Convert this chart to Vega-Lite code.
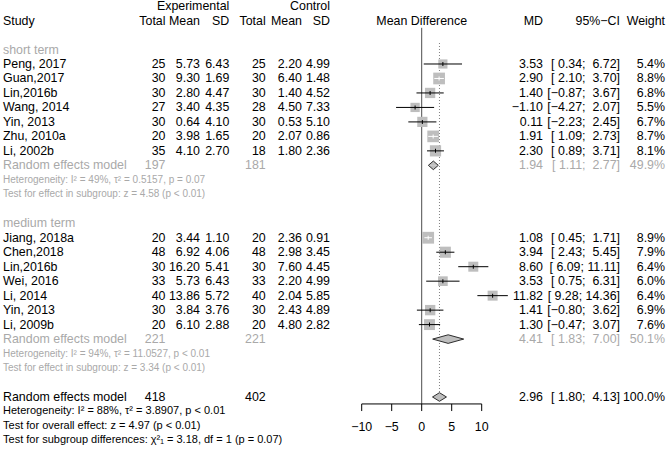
{
  "$schema": "https://vega.github.io/schema/vega-lite/v6.json",
  "width": 669,
  "height": 451,
  "autosize": "none",
  "padding": 0,
  "background": "white",
  "config": {
    "view": {"stroke": null},
    "text": {"font": "Liberation Sans", "fontSize": 12.4, "baseline": "middle"}
  },
  "datasets": {
    "table": [
      {"row": 1, "kind": "header", "eSD": "Experimental", "cSD": "Control"},
      {"row": 2, "kind": "header", "study": "Study", "eN": "Total", "eMean": "Mean", "eSD": "SD", "cN": "Total", "cMean": "Mean", "cSD": "SD", "fp": "Mean Difference", "mdText": "MD", "ci": "95%−CI", "wt": "Weight"},
      {"row": 5, "kind": "study", "study": "Peng, 2017", "eN": "25", "eMean": "5.73", "eSD": "6.43", "cN": "25", "cMean": "2.20", "cSD": "4.99", "md": 3.53, "lower": 0.34, "upper": 6.72, "w": 5.4, "mdText": "3.53", "ci": "[ 0.34; \u00a06.72]", "wt": "5.4%"},
      {"row": 6, "kind": "study", "study": "Guan,2017", "eN": "30", "eMean": "9.30", "eSD": "1.69", "cN": "30", "cMean": "6.40", "cSD": "1.48", "md": 2.90, "lower": 2.10, "upper": 3.70, "w": 8.8, "mdText": "2.90", "ci": "[ 2.10; \u00a03.70]", "wt": "8.8%"},
      {"row": 7, "kind": "study", "study": "Lin,2016b", "eN": "30", "eMean": "2.80", "eSD": "4.47", "cN": "30", "cMean": "1.40", "cSD": "4.52", "md": 1.40, "lower": -0.87, "upper": 3.67, "w": 6.8, "mdText": "1.40", "ci": "[−0.87; \u00a03.67]", "wt": "6.8%"},
      {"row": 8, "kind": "study", "study": "Wang, 2014", "eN": "27", "eMean": "3.40", "eSD": "4.35", "cN": "28", "cMean": "4.50", "cSD": "7.33", "md": -1.10, "lower": -4.27, "upper": 2.07, "w": 5.5, "mdText": "−1.10", "ci": "[−4.27; \u00a02.07]", "wt": "5.5%"},
      {"row": 9, "kind": "study", "study": "Yin, 2013", "eN": "30", "eMean": "0.64", "eSD": "4.10", "cN": "30", "cMean": "0.53", "cSD": "5.10", "md": 0.11, "lower": -2.23, "upper": 2.45, "w": 6.7, "mdText": "0.11", "ci": "[−2.23; \u00a02.45]", "wt": "6.7%"},
      {"row": 10, "kind": "study", "study": "Zhu, 2010a", "eN": "20", "eMean": "3.98", "eSD": "1.65", "cN": "20", "cMean": "2.07", "cSD": "0.86", "md": 1.91, "lower": 1.09, "upper": 2.73, "w": 8.7, "mdText": "1.91", "ci": "[ 1.09; \u00a02.73]", "wt": "8.7%"},
      {"row": 11, "kind": "study", "study": "Li, 2002b", "eN": "35", "eMean": "4.10", "eSD": "2.70", "cN": "18", "cMean": "1.80", "cSD": "2.36", "md": 2.30, "lower": 0.89, "upper": 3.71, "w": 8.1, "mdText": "2.30", "ci": "[ 0.89; \u00a03.71]", "wt": "8.1%"},
      {"row": 12, "kind": "sub", "study": "Random effects model", "eN": "197", "cN": "181", "md": 1.94, "lower": 1.11, "upper": 2.77, "mdText": "1.94", "ci": "[ 1.11; \u00a02.77]", "wt": "49.9%"},
      {"row": 17, "kind": "study", "study": "Jiang, 2018a", "eN": "20", "eMean": "3.44", "eSD": "1.10", "cN": "20", "cMean": "2.36", "cSD": "0.91", "md": 1.08, "lower": 0.45, "upper": 1.71, "w": 8.9, "mdText": "1.08", "ci": "[ 0.45; \u00a01.71]", "wt": "8.9%"},
      {"row": 18, "kind": "study", "study": "Chen,2018", "eN": "48", "eMean": "6.92", "eSD": "4.06", "cN": "48", "cMean": "2.98", "cSD": "3.45", "md": 3.94, "lower": 2.43, "upper": 5.45, "w": 7.9, "mdText": "3.94", "ci": "[ 2.43; \u00a05.45]", "wt": "7.9%"},
      {"row": 19, "kind": "study", "study": "Lin,2016b", "eN": "30", "eMean": "16.20", "eSD": "5.41", "cN": "30", "cMean": "7.60", "cSD": "4.45", "md": 8.60, "lower": 6.09, "upper": 11.11, "w": 6.4, "mdText": "8.60", "ci": "[ 6.09; 11.11]", "wt": "6.4%"},
      {"row": 20, "kind": "study", "study": "Wei, 2016", "eN": "33", "eMean": "5.73", "eSD": "6.43", "cN": "33", "cMean": "2.20", "cSD": "4.99", "md": 3.53, "lower": 0.75, "upper": 6.31, "w": 6.0, "mdText": "3.53", "ci": "[ 0.75; \u00a06.31]", "wt": "6.0%"},
      {"row": 21, "kind": "study", "study": "Li, 2014", "eN": "40", "eMean": "13.86", "eSD": "5.72", "cN": "40", "cMean": "2.04", "cSD": "5.85", "md": 11.82, "lower": 9.28, "upper": 14.36, "w": 6.4, "mdText": "11.82", "ci": "[ 9.28; 14.36]", "wt": "6.4%"},
      {"row": 22, "kind": "study", "study": "Yin, 2013", "eN": "30", "eMean": "3.84", "eSD": "3.76", "cN": "30", "cMean": "2.43", "cSD": "4.89", "md": 1.41, "lower": -0.80, "upper": 3.62, "w": 6.9, "mdText": "1.41", "ci": "[−0.80; \u00a03.62]", "wt": "6.9%"},
      {"row": 23, "kind": "study", "study": "\u00a0Li, 2009b", "eN": "20", "eMean": "6.10", "eSD": "2.88", "cN": "20", "cMean": "4.80", "cSD": "2.82", "md": 1.30, "lower": -0.47, "upper": 3.07, "w": 7.6, "mdText": "1.30", "ci": "[−0.47; \u00a03.07]", "wt": "7.6%"},
      {"row": 24, "kind": "sub", "study": "Random effects model", "eN": "221", "cN": "221", "md": 4.41, "lower": 1.83, "upper": 7.00, "mdText": "4.41", "ci": "[ 1.83; \u00a07.00]", "wt": "50.1%"},
      {"row": 28, "kind": "overall", "study": "Random effects model", "eN": "418", "cN": "402", "md": 2.96, "lower": 1.80, "upper": 4.13, "mdText": "2.96", "ci": "[ 1.80; \u00a04.13]", "wt": "100.0%"}
    ],
    "notes": [
      {"row": 4, "text": "short term", "kind": "subtitle"},
      {"row": 13, "text": "Heterogeneity: I² = 49%, τ² = 0.5157, p = 0.07", "kind": "subnote"},
      {"row": 14, "text": "Test for effect in subgroup: z = 4.58 (p < 0.01)", "kind": "subnote"},
      {"row": 16, "text": "medium term", "kind": "subtitle"},
      {"row": 25, "text": "Heterogeneity: I² = 94%, τ² = 11.0527, p < 0.01", "kind": "subnote"},
      {"row": 26, "text": "Test for effect in subgroup: z = 3.34 (p < 0.01)", "kind": "subnote"},
      {"row": 29, "text": "Heterogeneity: I² = 88%, τ² = 3.8907, p < 0.01", "kind": "note"},
      {"row": 30, "text": "Test for overall effect: z = 4.97 (p < 0.01)", "kind": "note"},
      {"row": 31, "text": "Test for subgroup differences: χ²₁ = 3.18, df = 1 (p = 0.07)", "kind": "note"}
    ],
    "ticks": [{"v": -10}, {"v": -5}, {"v": 0}, {"v": 5}, {"v": 10}]
  },
  "layer": [
    {
      "data": {"name": "ticks"},
      "transform": [{"filter": "datum.v === 0"}],
      "mark": {"type": "rule", "color": "#4D4D4D", "strokeWidth": 1},
      "encoding": {
        "x": {"field": "v", "type": "quantitative", "scale": {"domain": [-70.283, 41.217], "nice": false, "zero": false}, "axis": null},
        "y": {"datum": 2.5, "type": "quantitative", "scale": {"domain": [0.58, 31.73], "reverse": true, "nice": false, "zero": false}, "axis": null},
        "y2": {"datum": 28.48}
      }
    },
    {
      "data": {"name": "table"},
      "transform": [{"filter": "datum.kind === 'overall'"}],
      "mark": {"type": "rule", "color": "#808080", "strokeWidth": 1, "strokeDash": [1, 2]},
      "encoding": {
        "x": {"field": "md", "type": "quantitative", "scale": {"domain": [-70.283, 41.217], "nice": false, "zero": false}, "axis": null},
        "y": {"datum": 3.55, "type": "quantitative", "scale": {"domain": [0.58, 31.73], "reverse": true, "nice": false, "zero": false}, "axis": null},
        "y2": {"datum": 27.68}
      }
    },
    {
      "data": {"name": "ticks"},
      "mark": {"type": "rule", "color": "#000000", "strokeWidth": 1},
      "encoding": {
        "x": {"aggregate": "min", "field": "v", "type": "quantitative", "scale": {"domain": [-70.283, 41.217], "nice": false, "zero": false}, "axis": null},
        "x2": {"aggregate": "max", "field": "v"},
        "y": {"datum": 28.48, "type": "quantitative", "scale": {"domain": [0.58, 31.73], "reverse": true, "nice": false, "zero": false}, "axis": null}
      }
    },
    {
      "data": {"name": "ticks"},
      "mark": {"type": "rule", "color": "#000000", "strokeWidth": 1},
      "encoding": {
        "x": {"field": "v", "type": "quantitative", "scale": {"domain": [-70.283, 41.217], "nice": false, "zero": false}, "axis": null},
        "y": {"datum": 28.48, "type": "quantitative", "scale": {"domain": [0.58, 31.73], "reverse": true, "nice": false, "zero": false}, "axis": null},
        "y2": {"datum": 28.97}
      }
    },
    {
      "data": {"name": "ticks"},
      "mark": {"type": "text", "align": "center", "fontSize": 12.4, "color": "#000000"},
      "encoding": {
        "x": {"field": "v", "type": "quantitative", "scale": {"domain": [-70.283, 41.217], "nice": false, "zero": false}, "axis": null},
        "y": {"datum": 30.07, "type": "quantitative", "scale": {"domain": [0.58, 31.73], "reverse": true, "nice": false, "zero": false}, "axis": null},
        "text": {"field": "v", "type": "quantitative", "format": "d"}
      }
    },
    {
      "data": {"name": "table"},
      "transform": [{"filter": "datum.kind === 'study'"}],
      "mark": {"type": "point", "shape": "square", "filled": true, "color": "#BEBEBE", "opacity": 1, "strokeWidth": 0},
      "encoding": {
        "x": {"field": "md", "type": "quantitative", "scale": {"domain": [-70.283, 41.217], "nice": false, "zero": false}, "axis": null},
        "y": {"field": "row", "type": "quantitative", "scale": {"domain": [0.58, 31.73], "reverse": true, "nice": false, "zero": false}, "axis": null},
        "size": {"field": "w", "type": "quantitative", "scale": {"type": "linear", "domain": [0, 10], "range": [0, 156], "zero": true}, "legend": null}
      }
    },
    {
      "data": {"name": "table"},
      "transform": [{"filter": "datum.kind === 'study'"}],
      "mark": {"type": "rule", "strokeWidth": 1},
      "encoding": {
        "x": {"field": "lower", "type": "quantitative", "scale": {"domain": [-70.283, 41.217], "nice": false, "zero": false}, "axis": null},
        "x2": {"field": "upper"},
        "y": {"field": "row", "type": "quantitative", "scale": {"domain": [0.58, 31.73], "reverse": true, "nice": false, "zero": false}, "axis": null},
        "color": {"condition": {"test": "datum.upper - datum.lower < 2", "value": "#FFFFFF"}, "value": "#000000"}
      }
    },
    {
      "data": {"name": "table"},
      "transform": [{"filter": "datum.kind === 'study'"}],
      "mark": {"type": "tick", "orient": "vertical", "size": 4, "thickness": 1, "opacity": 1},
      "encoding": {
        "x": {"field": "md", "type": "quantitative", "scale": {"domain": [-70.283, 41.217], "nice": false, "zero": false}, "axis": null},
        "y": {"field": "row", "type": "quantitative", "scale": {"domain": [0.58, 31.73], "reverse": true, "nice": false, "zero": false}, "axis": null},
        "color": {"condition": {"test": "datum.upper - datum.lower < 2", "value": "#FFFFFF"}, "value": "#000000"}
      }
    },
    {
      "data": {"name": "table"},
      "transform": [
        {"filter": "datum.kind === 'sub' || datum.kind === 'overall'"},
        {"fold": ["lower", "md", "upper"], "as": ["pt", "xv"]}
      ],
      "mark": {
        "type": "line",
        "fill": "#BEBEBE",
        "stroke": "#1A1A1A",
        "strokeWidth": 0.9,
        "strokeJoin": "miter",
        "yOffset": {"expr": "datum.pt === 'md' ? -4.3 : 0"}
      },
      "encoding": {
        "x": {"field": "xv", "type": "quantitative", "scale": {"domain": [-70.283, 41.217], "nice": false, "zero": false}, "axis": null},
        "y": {"field": "row", "type": "quantitative", "scale": {"domain": [0.58, 31.73], "reverse": true, "nice": false, "zero": false}, "axis": null},
        "detail": {"field": "row", "type": "nominal"},
        "order": {"field": "xv", "type": "quantitative"}
      }
    },
    {
      "data": {"name": "table"},
      "transform": [
        {"filter": "datum.kind === 'sub' || datum.kind === 'overall'"},
        {"fold": ["lower", "md", "upper"], "as": ["pt", "xv"]}
      ],
      "mark": {
        "type": "line",
        "fill": "#BEBEBE",
        "stroke": "#1A1A1A",
        "strokeWidth": 0.9,
        "strokeJoin": "miter",
        "yOffset": {"expr": "datum.pt === 'md' ? 4.3 : 0"}
      },
      "encoding": {
        "x": {"field": "xv", "type": "quantitative", "scale": {"domain": [-70.283, 41.217], "nice": false, "zero": false}, "axis": null},
        "y": {"field": "row", "type": "quantitative", "scale": {"domain": [0.58, 31.73], "reverse": true, "nice": false, "zero": false}, "axis": null},
        "detail": {"field": "row", "type": "nominal"},
        "order": {"field": "xv", "type": "quantitative"}
      }
    },
    {
      "data": {"name": "table"},
      "transform": [{"filter": "datum.study != null"}],
      "mark": {"type": "text", "align": "left"},
      "encoding": {
        "x": {"datum": -69.78, "type": "quantitative", "scale": {"domain": [-70.283, 41.217], "nice": false, "zero": false}, "axis": null},
        "y": {"field": "row", "type": "quantitative", "scale": {"domain": [0.58, 31.73], "reverse": true, "nice": false, "zero": false}, "axis": null},
        "text": {"field": "study", "type": "nominal"},
        "color": {"field": "kind", "type": "nominal", "scale": {"domain": ["header", "study", "sub", "overall", "subtitle", "subnote", "note"], "range": ["#000000", "#000000", "#A9A9A9", "#000000", "#A9A9A9", "#A9A9A9", "#000000"]}, "legend": null}
      }
    },
    {
      "data": {"name": "table"},
      "transform": [{"filter": "datum.eN != null"}],
      "mark": {"type": "text", "align": "right"},
      "encoding": {
        "x": {"datum": -42.7, "type": "quantitative", "scale": {"domain": [-70.283, 41.217], "nice": false, "zero": false}, "axis": null},
        "y": {"field": "row", "type": "quantitative", "scale": {"domain": [0.58, 31.73], "reverse": true, "nice": false, "zero": false}, "axis": null},
        "text": {"field": "eN", "type": "nominal"},
        "color": {"field": "kind", "type": "nominal", "scale": {"domain": ["header", "study", "sub", "overall", "subtitle", "subnote", "note"], "range": ["#000000", "#000000", "#A9A9A9", "#000000", "#A9A9A9", "#A9A9A9", "#000000"]}, "legend": null}
      }
    },
    {
      "data": {"name": "table"},
      "transform": [{"filter": "datum.eMean != null"}],
      "mark": {"type": "text", "align": "right"},
      "encoding": {
        "x": {"datum": -36.95, "type": "quantitative", "scale": {"domain": [-70.283, 41.217], "nice": false, "zero": false}, "axis": null},
        "y": {"field": "row", "type": "quantitative", "scale": {"domain": [0.58, 31.73], "reverse": true, "nice": false, "zero": false}, "axis": null},
        "text": {"field": "eMean", "type": "nominal"},
        "color": {"field": "kind", "type": "nominal", "scale": {"domain": ["header", "study", "sub", "overall", "subtitle", "subnote", "note"], "range": ["#000000", "#000000", "#A9A9A9", "#000000", "#A9A9A9", "#A9A9A9", "#000000"]}, "legend": null}
      }
    },
    {
      "data": {"name": "table"},
      "transform": [{"filter": "datum.eSD != null"}],
      "mark": {"type": "text", "align": "right"},
      "encoding": {
        "x": {"datum": -32.07, "type": "quantitative", "scale": {"domain": [-70.283, 41.217], "nice": false, "zero": false}, "axis": null},
        "y": {"field": "row", "type": "quantitative", "scale": {"domain": [0.58, 31.73], "reverse": true, "nice": false, "zero": false}, "axis": null},
        "text": {"field": "eSD", "type": "nominal"},
        "color": {"field": "kind", "type": "nominal", "scale": {"domain": ["header", "study", "sub", "overall", "subtitle", "subnote", "note"], "range": ["#000000", "#000000", "#A9A9A9", "#000000", "#A9A9A9", "#A9A9A9", "#000000"]}, "legend": null}
      }
    },
    {
      "data": {"name": "table"},
      "transform": [{"filter": "datum.cN != null"}],
      "mark": {"type": "text", "align": "right"},
      "encoding": {
        "x": {"datum": -26.0, "type": "quantitative", "scale": {"domain": [-70.283, 41.217], "nice": false, "zero": false}, "axis": null},
        "y": {"field": "row", "type": "quantitative", "scale": {"domain": [0.58, 31.73], "reverse": true, "nice": false, "zero": false}, "axis": null},
        "text": {"field": "cN", "type": "nominal"},
        "color": {"field": "kind", "type": "nominal", "scale": {"domain": ["header", "study", "sub", "overall", "subtitle", "subnote", "note"], "range": ["#000000", "#000000", "#A9A9A9", "#000000", "#A9A9A9", "#A9A9A9", "#000000"]}, "legend": null}
      }
    },
    {
      "data": {"name": "table"},
      "transform": [{"filter": "datum.cMean != null"}],
      "mark": {"type": "text", "align": "right"},
      "encoding": {
        "x": {"datum": -19.95, "type": "quantitative", "scale": {"domain": [-70.283, 41.217], "nice": false, "zero": false}, "axis": null},
        "y": {"field": "row", "type": "quantitative", "scale": {"domain": [0.58, 31.73], "reverse": true, "nice": false, "zero": false}, "axis": null},
        "text": {"field": "cMean", "type": "nominal"},
        "color": {"field": "kind", "type": "nominal", "scale": {"domain": ["header", "study", "sub", "overall", "subtitle", "subnote", "note"], "range": ["#000000", "#000000", "#A9A9A9", "#000000", "#A9A9A9", "#A9A9A9", "#000000"]}, "legend": null}
      }
    },
    {
      "data": {"name": "table"},
      "transform": [{"filter": "datum.cSD != null"}],
      "mark": {"type": "text", "align": "right"},
      "encoding": {
        "x": {"datum": -15.28, "type": "quantitative", "scale": {"domain": [-70.283, 41.217], "nice": false, "zero": false}, "axis": null},
        "y": {"field": "row", "type": "quantitative", "scale": {"domain": [0.58, 31.73], "reverse": true, "nice": false, "zero": false}, "axis": null},
        "text": {"field": "cSD", "type": "nominal"},
        "color": {"field": "kind", "type": "nominal", "scale": {"domain": ["header", "study", "sub", "overall", "subtitle", "subnote", "note"], "range": ["#000000", "#000000", "#A9A9A9", "#000000", "#A9A9A9", "#A9A9A9", "#000000"]}, "legend": null}
      }
    },
    {
      "data": {"name": "table"},
      "transform": [{"filter": "datum.fp != null"}],
      "mark": {"type": "text", "align": "center"},
      "encoding": {
        "x": {"datum": 0, "type": "quantitative", "scale": {"domain": [-70.283, 41.217], "nice": false, "zero": false}, "axis": null},
        "y": {"field": "row", "type": "quantitative", "scale": {"domain": [0.58, 31.73], "reverse": true, "nice": false, "zero": false}, "axis": null},
        "text": {"field": "fp", "type": "nominal"},
        "color": {"field": "kind", "type": "nominal", "scale": {"domain": ["header", "study", "sub", "overall", "subtitle", "subnote", "note"], "range": ["#000000", "#000000", "#A9A9A9", "#000000", "#A9A9A9", "#A9A9A9", "#000000"]}, "legend": null}
      }
    },
    {
      "data": {"name": "table"},
      "transform": [{"filter": "datum.mdText != null"}],
      "mark": {"type": "text", "align": "right"},
      "encoding": {
        "x": {"datum": 20.22, "type": "quantitative", "scale": {"domain": [-70.283, 41.217], "nice": false, "zero": false}, "axis": null},
        "y": {"field": "row", "type": "quantitative", "scale": {"domain": [0.58, 31.73], "reverse": true, "nice": false, "zero": false}, "axis": null},
        "text": {"field": "mdText", "type": "nominal"},
        "color": {"field": "kind", "type": "nominal", "scale": {"domain": ["header", "study", "sub", "overall", "subtitle", "subnote", "note"], "range": ["#000000", "#000000", "#A9A9A9", "#000000", "#A9A9A9", "#A9A9A9", "#000000"]}, "legend": null}
      }
    },
    {
      "data": {"name": "table"},
      "transform": [{"filter": "datum.ci != null"}],
      "mark": {"type": "text", "align": "right"},
      "encoding": {
        "x": {"datum": 33.05, "type": "quantitative", "scale": {"domain": [-70.283, 41.217], "nice": false, "zero": false}, "axis": null},
        "y": {"field": "row", "type": "quantitative", "scale": {"domain": [0.58, 31.73], "reverse": true, "nice": false, "zero": false}, "axis": null},
        "text": {"field": "ci", "type": "nominal"},
        "color": {"field": "kind", "type": "nominal", "scale": {"domain": ["header", "study", "sub", "overall", "subtitle", "subnote", "note"], "range": ["#000000", "#000000", "#A9A9A9", "#000000", "#A9A9A9", "#A9A9A9", "#000000"]}, "legend": null}
      }
    },
    {
      "data": {"name": "table"},
      "transform": [{"filter": "datum.wt != null"}],
      "mark": {"type": "text", "align": "right"},
      "encoding": {
        "x": {"datum": 40.55, "type": "quantitative", "scale": {"domain": [-70.283, 41.217], "nice": false, "zero": false}, "axis": null},
        "y": {"field": "row", "type": "quantitative", "scale": {"domain": [0.58, 31.73], "reverse": true, "nice": false, "zero": false}, "axis": null},
        "text": {"field": "wt", "type": "nominal"},
        "color": {"field": "kind", "type": "nominal", "scale": {"domain": ["header", "study", "sub", "overall", "subtitle", "subnote", "note"], "range": ["#000000", "#000000", "#A9A9A9", "#000000", "#A9A9A9", "#A9A9A9", "#000000"]}, "legend": null}
      }
    },
    {
      "data": {"name": "notes"},
      "transform": [{"filter": "datum.kind === 'subtitle'"}],
      "mark": {"type": "text", "align": "left", "fontSize": 12.4},
      "encoding": {
        "x": {"datum": -69.78, "type": "quantitative", "scale": {"domain": [-70.283, 41.217], "nice": false, "zero": false}, "axis": null},
        "y": {"field": "row", "type": "quantitative", "scale": {"domain": [0.58, 31.73], "reverse": true, "nice": false, "zero": false}, "axis": null},
        "text": {"field": "text", "type": "nominal"},
        "color": {"field": "kind", "type": "nominal", "scale": {"domain": ["header", "study", "sub", "overall", "subtitle", "subnote", "note"], "range": ["#000000", "#000000", "#A9A9A9", "#000000", "#A9A9A9", "#A9A9A9", "#000000"]}, "legend": null}
      }
    },
    {
      "data": {"name": "notes"},
      "transform": [{"filter": "datum.kind === 'subnote'"}],
      "mark": {"type": "text", "align": "left", "fontSize": 10},
      "encoding": {
        "x": {"datum": -69.78, "type": "quantitative", "scale": {"domain": [-70.283, 41.217], "nice": false, "zero": false}, "axis": null},
        "y": {"field": "row", "type": "quantitative", "scale": {"domain": [0.58, 31.73], "reverse": true, "nice": false, "zero": false}, "axis": null},
        "text": {"field": "text", "type": "nominal"},
        "color": {"field": "kind", "type": "nominal", "scale": {"domain": ["header", "study", "sub", "overall", "subtitle", "subnote", "note"], "range": ["#000000", "#000000", "#A9A9A9", "#000000", "#A9A9A9", "#A9A9A9", "#000000"]}, "legend": null}
      }
    },
    {
      "data": {"name": "notes"},
      "transform": [{"filter": "datum.kind === 'note'"}],
      "mark": {"type": "text", "align": "left", "fontSize": 11},
      "encoding": {
        "x": {"datum": -69.78, "type": "quantitative", "scale": {"domain": [-70.283, 41.217], "nice": false, "zero": false}, "axis": null},
        "y": {"field": "row", "type": "quantitative", "scale": {"domain": [0.58, 31.73], "reverse": true, "nice": false, "zero": false}, "axis": null},
        "text": {"field": "text", "type": "nominal"},
        "color": {"field": "kind", "type": "nominal", "scale": {"domain": ["header", "study", "sub", "overall", "subtitle", "subnote", "note"], "range": ["#000000", "#000000", "#A9A9A9", "#000000", "#A9A9A9", "#A9A9A9", "#000000"]}, "legend": null}
      }
    }
  ]
}
